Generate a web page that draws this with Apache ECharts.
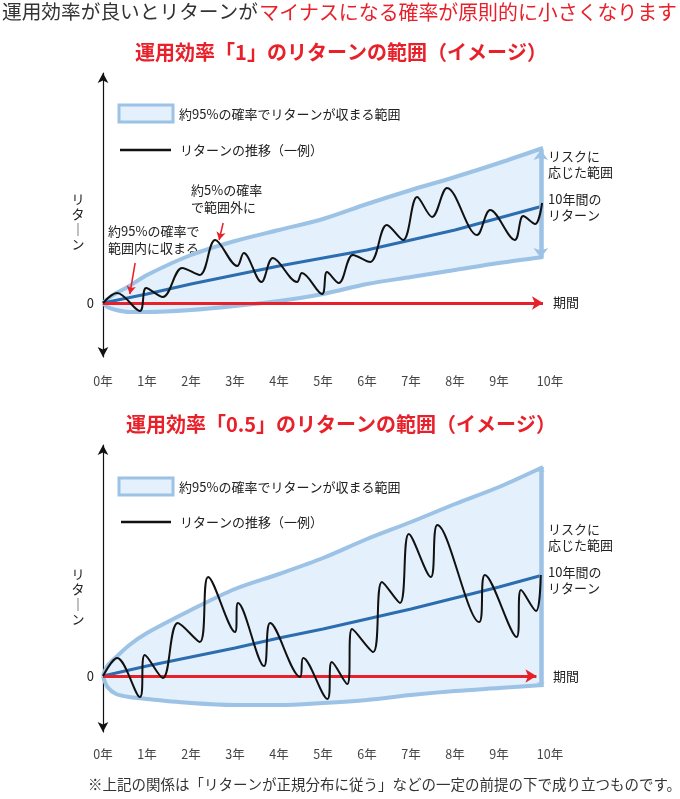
<!DOCTYPE html>
<html><head><meta charset="utf-8">
<script src="https://cdn.jsdelivr.net/npm/echarts@6/dist/echarts.min.js"></script>
<style>html,body{margin:0;padding:0;background:#fff}#c{width:680px;height:799px}</style>
</head><body><div id="c"></div>
<script>
// ---- data (years on x, return in arbitrary units on y) ----
const yearTicks = [0,1,2,3,4,5,6,7,8,9,10];
const bandT  = [0, 0.1, 0.3, 0.6, 1, 2, 3, 4, 5, 6, 7, 8, 9, 10];
// panel 1: efficiency 1
const upper1 = [0, 4, 10, 17, 28, 48, 62, 73, 84, 99, 113, 126, 140, 155];
const lower1 = [0, -4, -7, -9, -9, -7, -3, 2, 9, 19, 26, 33, 40, 46];
const mean1  = [0, 9, 19, 28, 37, 45, 53, 63, 73, 85, 97];
const path1T = [0, 0.32, 0.84, 0.98, 1.36, 1.80, 2.2, 2.55, 3.05, 3.2, 3.6, 3.86, 4.41, 4.52, 4.98, 5.09, 5.36, 5.68, 6.07, 6.45, 6.82, 7.14, 7.48, 7.82, 8.5, 8.8, 9.36, 9.55, 9.82, 9.98];
const path1V = [0, 10, -8, 15, 6, 35, 28, 63, 37, 50, 21, 45, 21, 30, 9, 31, 20, 48, 41, 78, 63, 106, 86, 115, 68, 93, 63, 87, 79, 100];
// panel 2: efficiency 0.5
const upper2 = [0, 10, 19, 31, 43, 66, 87, 102, 118, 137, 154, 172, 189, 209];
const lower2 = [0, -11, -18, -21, -23, -27, -29, -29, -27, -24, -19, -15, -12, -9];
const mean2  = [0, 10, 19, 28, 38, 47, 57, 67, 78, 89, 101];
const path2T = [0, 0.32, 0.84, 0.95, 1.36, 1.7, 2.2, 2.39, 3.0, 3.07, 3.66, 3.8, 4.48, 4.55, 5.1, 5.2, 5.55, 5.66, 6.14, 6.34, 6.75, 6.95, 7.45, 7.6, 8.55, 8.68, 9.4, 9.5, 9.84, 9.95];
const path2V = [0, 18, -21, 21, -2, 53, 34, 99, 44, 73, 10, 53, -1, 18, -23, 14, -8, 47, 24, 94, 73, 142, 99, 151, 54, 101, 39, 86, 65, 101];
// arrows / annotations (data coords)
const riskArrow1 = [[9.95, 153], [9.95, 45]];
const riskArrow2 = [[9.95, 209], [9.95, -11]];
const periodEnd1 = 10, periodEnd2 = 9.85;
const note1Arrow = [[0.73, 40], [0.61, 9]];
const note2Arrow = [[2.73, 80], [2.64, 63]];

const FONT = '"Noto Sans CJK JP","Noto Sans",sans-serif';
const EDGE = '#9cc2e5', FILL = '#e4f0fb', BLUE = '#2c6db0', RED = '#e8202a', INK = '#222';

const chart = echarts.init(document.getElementById('c'), null, {renderer:'canvas'});

function xAxisDef(gi, margin){
  return {type:'value', gridIndex:gi, min:0, max:10, interval:1,
    axisLine:{show:false}, axisTick:{show:false}, splitLine:{show:false},
    axisLabel:{margin:margin, color:'#444', fontSize:12.5, fontFamily:FONT,
      formatter:v => v===10 ? '{a|10年}' : v+'年',
      rich:{a:{padding:[0,0,0,14], color:'#444', fontSize:12.5, fontFamily:FONT}}}};
}
function yAxisDef(gi, min, max){
  return {type:'value', gridIndex:gi, min:min, max:max, interval:-min,
    axisLine:{show:true, symbol:['arrow','arrow'], symbolSize:[8,10], lineStyle:{color:'#111', width:1.2}},
    axisTick:{show:false}, splitLine:{show:false},
    axisLabel:{show:true, margin:9, color:INK, fontSize:13, fontFamily:FONT, formatter:v => v===0?'0':''}};
}
function pairs(t, v){ return t.map((x,i)=>[x, v[i]]); }

function panelSeries(gi, upper, lower, mean, pT, pV, riskArrow, riskSize, periodEnd, extraLines){
  const ml = [
    [{coord:[0,0], lineStyle:{color:RED,width:3}}, {coord:[periodEnd,0]}],
    [{coord:riskArrow[0], symbol:'arrow', symbolSize:riskSize, lineStyle:{color:EDGE,width:4.5}}, {coord:riskArrow[1], symbolSize:riskSize}]
  ].concat(extraLines||[]);
  return [
    {type:'custom', xAxisIndex:gi, yAxisIndex:gi, data:[0], silent:true, z:1,
      renderItem:(params, api) => {
        const pts = bandT.map((t,i)=>api.coord([t, upper[i]]))
          .concat(bandT.map((t,i)=>api.coord([t, lower[i]])).reverse());
        return {type:'polygon', shape:{points:pts}, style:{fill:FILL}};
      }},
    {type:'line', xAxisIndex:gi, yAxisIndex:gi, data: pairs(bandT, lower), symbol:'none', smooth:0.3,
      lineStyle:{color:EDGE, width:4}, z:3, silent:true},
    {type:'line', xAxisIndex:gi, yAxisIndex:gi, data: pairs(bandT, upper), symbol:'none', smooth:0.3,
      lineStyle:{color:EDGE, width:4}, z:3, silent:true},
    {type:'line', xAxisIndex:gi, yAxisIndex:gi, data: pairs(yearTicks, mean), symbol:'none',
      lineStyle:{color:BLUE, width:3}, z:4, silent:true,
      markLine:{silent:true, symbol:['none','arrow'], symbolSize:[10,11], label:{show:false},
        lineStyle:{type:'solid'}, data: ml}},
    {type:'line', xAxisIndex:gi, yAxisIndex:gi, data: pairs(pT, pV), symbol:'none', smooth:0.35,
      lineStyle:{color:'#111', width:2}, z:6, silent:true}
  ];
}

const s1 = panelSeries(0, upper1, lower1, mean1, path1T, path1V, riskArrow1, [11,10], periodEnd1, [
  [{coord:note1Arrow[0], lineStyle:{color:RED,width:1.5}, symbolSize:[7,8]}, {coord:note1Arrow[1], symbolSize:[7,8]}],
  [{coord:note2Arrow[0], lineStyle:{color:RED,width:1.5}, symbolSize:[7,8]}, {coord:note2Arrow[1], symbolSize:[7,8]}]
]);
const s2 = panelSeries(1, upper2, lower2, mean2, path2T, path2V, riskArrow2, [6,5], periodEnd2, []);

function txt(x, y, text, opt){
  return {type:'text', x:x, y:y, style:Object.assign({text:text, fill:INK, font:'13px '+FONT, textVerticalAlign:'middle'}, opt||{})};
}
const graphics = [
  txt(2, 12, '運用効率が良いとリターンが', {fill:'#333', font:'19.7px '+FONT}),
  txt(677, 12, 'マイナスになる確率が原則的に小さくなります', {fill:RED, font:'19.9px '+FONT, textAlign:'right'}),
  txt(341, 52, '運用効率「1」のリターンの範囲（イメージ）', {fill:RED, font:'bold 20px '+FONT, textAlign:'center'}),
  txt(341, 424, '運用効率「0.5」のリターンの範囲（イメージ）', {fill:RED, font:'bold 20px '+FONT, textAlign:'center'}),
  // legends panel 1
  {type:'rect', shape:{x:119, y:105, width:54, height:17}, style:{fill:FILL, stroke:EDGE, lineWidth:3}},
  txt(179, 114, '約95%の確率でリターンが収まる範囲'),
  {type:'line', shape:{x1:120, y1:150, x2:171, y2:150}, style:{stroke:'#111', lineWidth:2.5}},
  txt(180, 150, 'リターンの推移（一例）'),
  // legends panel 2
  {type:'rect', shape:{x:119, y:478, width:54, height:17}, style:{fill:FILL, stroke:EDGE, lineWidth:3}},
  txt(179, 487, '約95%の確率でリターンが収まる範囲'),
  {type:'line', shape:{x1:121, y1:522, x2:171, y2:522}, style:{stroke:'#111', lineWidth:2.5}},
  txt(180, 522, 'リターンの推移（一例）'),
  // vertical axis titles
  txt(78, 222, 'リ\nタ\n｜\nン', {textAlign:'center', lineHeight:15}),
  txt(78, 597, 'リ\nタ\n｜\nン', {textAlign:'center', lineHeight:15}),
  // notes panel 1
  txt(108, 240, '約95%の確率で\n範囲内に収まる', {lineHeight:17}),
  txt(191, 199, '約5%の確率\nで範囲外に', {lineHeight:17}),
  // right-hand labels
  txt(548, 164, 'リスクに\n応じた範囲', {lineHeight:16}),
  txt(548, 207, '10年間の\nリターン', {lineHeight:16}),
  txt(553, 302, '期間'),
  txt(548, 537, 'リスクに\n応じた範囲', {lineHeight:16}),
  txt(548, 580, '10年間の\nリターン', {lineHeight:16}),
  txt(553, 676, '期間'),
  // footnote
  txt(88, 784, '※上記の関係は「リターンが正規分布に従う」などの一定の前提の下で成り立つものです。', {font:'14.5px '+FONT, fill:'#333'})
];

chart.setOption({
  animation:false,
  backgroundColor:'#fff',
  textStyle:{fontFamily:FONT},
  grid:[{left:103, width:440, top:73, height:284}, {left:103, width:440, top:445, height:287}],
  xAxis:[xAxisDef(0, 18), xAxisDef(1, 16)],
  yAxis:[yAxisDef(0, -54, 230), yAxisDef(1, -56, 231)],
  series: s1.concat(s2),
  graphic: graphics
});
</script></body></html>
